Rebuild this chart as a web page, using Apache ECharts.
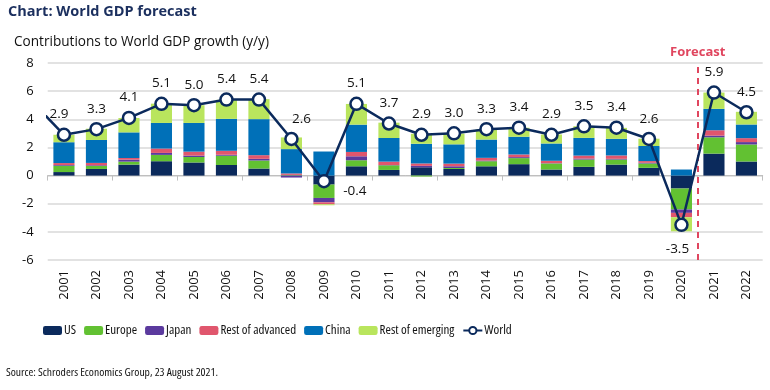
<!DOCTYPE html>
<html>
<head>
<meta charset="utf-8">
<script src="https://cdn.jsdelivr.net/npm/echarts@6/dist/echarts.min.js"></script>
<style>
html,body{margin:0;padding:0;background:#fff;}
#c{width:770px;height:390px;}
</style>
</head>
<body>
<div id="c"></div>
<script>
const years = ['2001','2002','2003','2004','2005','2006','2007','2008','2009','2010','2011','2012','2013','2014','2015','2016','2017','2018','2019','2020','2021','2022'];
const us      = [0.25,0.47,0.78,1.02,0.93,0.75,0.50,0.00,-0.64,0.66,0.40,0.59,0.47,0.66,0.81,0.43,0.62,0.78,0.55,-0.92,1.56,1.00];
const europe  = [0.45,0.21,0.21,0.45,0.39,0.66,0.57,0.05,-0.95,0.43,0.33,-0.07,0.07,0.36,0.43,0.43,0.52,0.36,0.31,-1.49,1.16,1.21];
const japan   = [0.05,0.05,0.14,0.14,0.10,0.07,0.12,-0.14,-0.31,0.28,0.02,0.10,0.12,0.05,0.07,0.02,0.07,0.05,0.05,-0.24,0.12,0.17];
const restAdv = [0.14,0.17,0.12,0.31,0.28,0.28,0.26,0.10,-0.14,0.31,0.24,0.17,0.19,0.19,0.19,0.17,0.21,0.24,0.12,-0.31,0.38,0.28];
const china   = [1.48,1.63,1.82,1.82,2.04,2.27,2.56,1.73,1.71,1.94,1.68,1.40,1.37,1.30,1.26,1.23,1.26,1.18,1.07,0.43,1.52,0.97];
const restEm  = [0.53,0.80,1.02,1.37,1.26,1.35,1.42,0.83,-0.07,1.47,1.09,0.71,0.76,0.72,0.64,0.64,0.83,0.78,0.52,-1.00,1.16,0.90];
const world   = [2.9,3.3,4.1,5.1,5.0,5.4,5.4,2.6,-0.4,5.1,3.7,2.9,3.0,3.3,3.4,2.9,3.5,3.4,2.6,-3.5,5.9,4.5];
const world2000 = 5.3;   // previous year, only the lead-in segment is visible
const yTicks = [-6,-4,-2,0,2,4,6,8];
const forecastStart = '2021';

const FONT = '"Open Sans","Noto Sans",sans-serif';
const NAVY = '#0b2a5c';

const chart = echarts.init(document.getElementById('c'), null, {renderer:'canvas'});

function barSeries(name, data, color){
  return {name, type:'bar', stack:'gdp', data, xAxisIndex:0, yAxisIndex:0,
    barCategoryGap:'35%', itemStyle:{color}, emphasis:{disabled:true}};
}

const labelPos = {
  '2001': {offset:[-5,0]},
  '2008': {offset:[10,0]},
  '2009': {position:'right', offset:[6,10]},
  '2020': {position:'bottom', offset:[-4,4]}
};

const worldData = world.map((v,i)=>{
  const o = {value:v};
  if (labelPos[years[i]]) o.label = labelPos[years[i]];
  return o;
});

const fIdx = years.indexOf(forecastStart) - 0.5;

chart.setOption({
  animation:false,
  textStyle:{fontFamily:FONT},
  title:[
    {text:'Chart: World GDP forecast', left:8, top:4, padding:0,
     textStyle:{fontFamily:FONT, fontSize:14.5, fontWeight:'bold', color:'#1b2f5e'}},
    {text:'Contributions to World GDP growth (y/y)', left:14, top:35, padding:0,
     textStyle:{fontFamily:FONT, fontSize:13.6, fontStyle:'normal', fontWeight:'normal', color:'#111'}},
    {text:'Source: Schroders Economics Group, 23 August 2021.', left:6, top:367, padding:0,
     textStyle:{fontFamily:'"Open Sans"', fontSize:11.6, fontWeight:'condensed', color:'#111'}}
  ],
  legend:{
    left:38, top:319, itemWidth:19, itemHeight:9, itemGap:8,
    textStyle:{fontFamily:'"Open Sans"', fontSize:13, fontWeight:'condensed', color:'#111', padding:[0,0,0,-3]},
    data:['US','Europe','Japan','Rest of advanced','China','Rest of emerging','World']
  },
  grid:{left:47.7, right:7.3, top:63, bottom:130, containLabel:false},
  xAxis:[
    {type:'category', data:years, position:'bottom',
     axisLine:{show:false, onZero:false}, axisTick:{show:false},
     axisLabel:{rotate:90, fontSize:13, color:'#111', margin:10, fontFamily:FONT}},
    {type:'category', data:years, position:'top',
     axisLine:{show:true, onZero:true, lineStyle:{color:'#bfbfbf', width:1}},
     axisTick:{show:true, inside:true, length:5, lineStyle:{color:'#bfbfbf'}},
     axisLabel:{show:false}},
    {type:'value', min:-0.5, max:years.length-0.5, show:false}
  ],
  yAxis:{type:'value', min:yTicks[0], max:yTicks[yTicks.length-1], interval:2,
    axisLine:{show:false}, axisTick:{show:false},
    axisLabel:{fontSize:13, color:'#111', margin:14},
    splitLine:{lineStyle:{color:'#d9d9d9', width:1.5}}},
  series:[
    barSeries('US', us, '#0b2a5c'),
    barSeries('Europe', europe, '#62c132'),
    barSeries('Japan', japan, '#5b3a9e'),
    barSeries('Rest of advanced', restAdv, '#e0566d'),
    barSeries('China', china, '#0070b8'),
    barSeries('Rest of emerging', restEm, '#b9e55d'),
    {name:'lead', type:'line', xAxisIndex:2, yAxisIndex:0, clip:true,
     data:[[-1, world2000],[0, world[0]]], showSymbol:false, symbol:'none',
     lineStyle:{color:NAVY, width:2.5}, silent:true, z:3,
     markLine:{silent:true, symbol:'none',
       lineStyle:{color:'#e0465f', width:2, type:[6,5]},
       label:{show:true, position:'end', formatter:'Forecast', color:'#e0465f',
              fontSize:13, fontWeight:'bold', fontFamily:FONT, distance:4},
       data:[[{coord:[fIdx, yTicks[0]]},{coord:[fIdx, yTicks[yTicks.length-1]]}]]}},
    {name:'World', type:'line', xAxisIndex:0, yAxisIndex:0, data:worldData,
     symbol:'circle', symbolSize:12, z:5,
     lineStyle:{color:NAVY, width:2.5},
     itemStyle:{color:'#fff', borderColor:NAVY, borderWidth:2.5},
     label:{show:true, position:'top', distance:6, fontSize:13.5, color:'#111',
            formatter:p=>p.value.toFixed(1)}}
  ]
});
</script>
</body>
</html>
